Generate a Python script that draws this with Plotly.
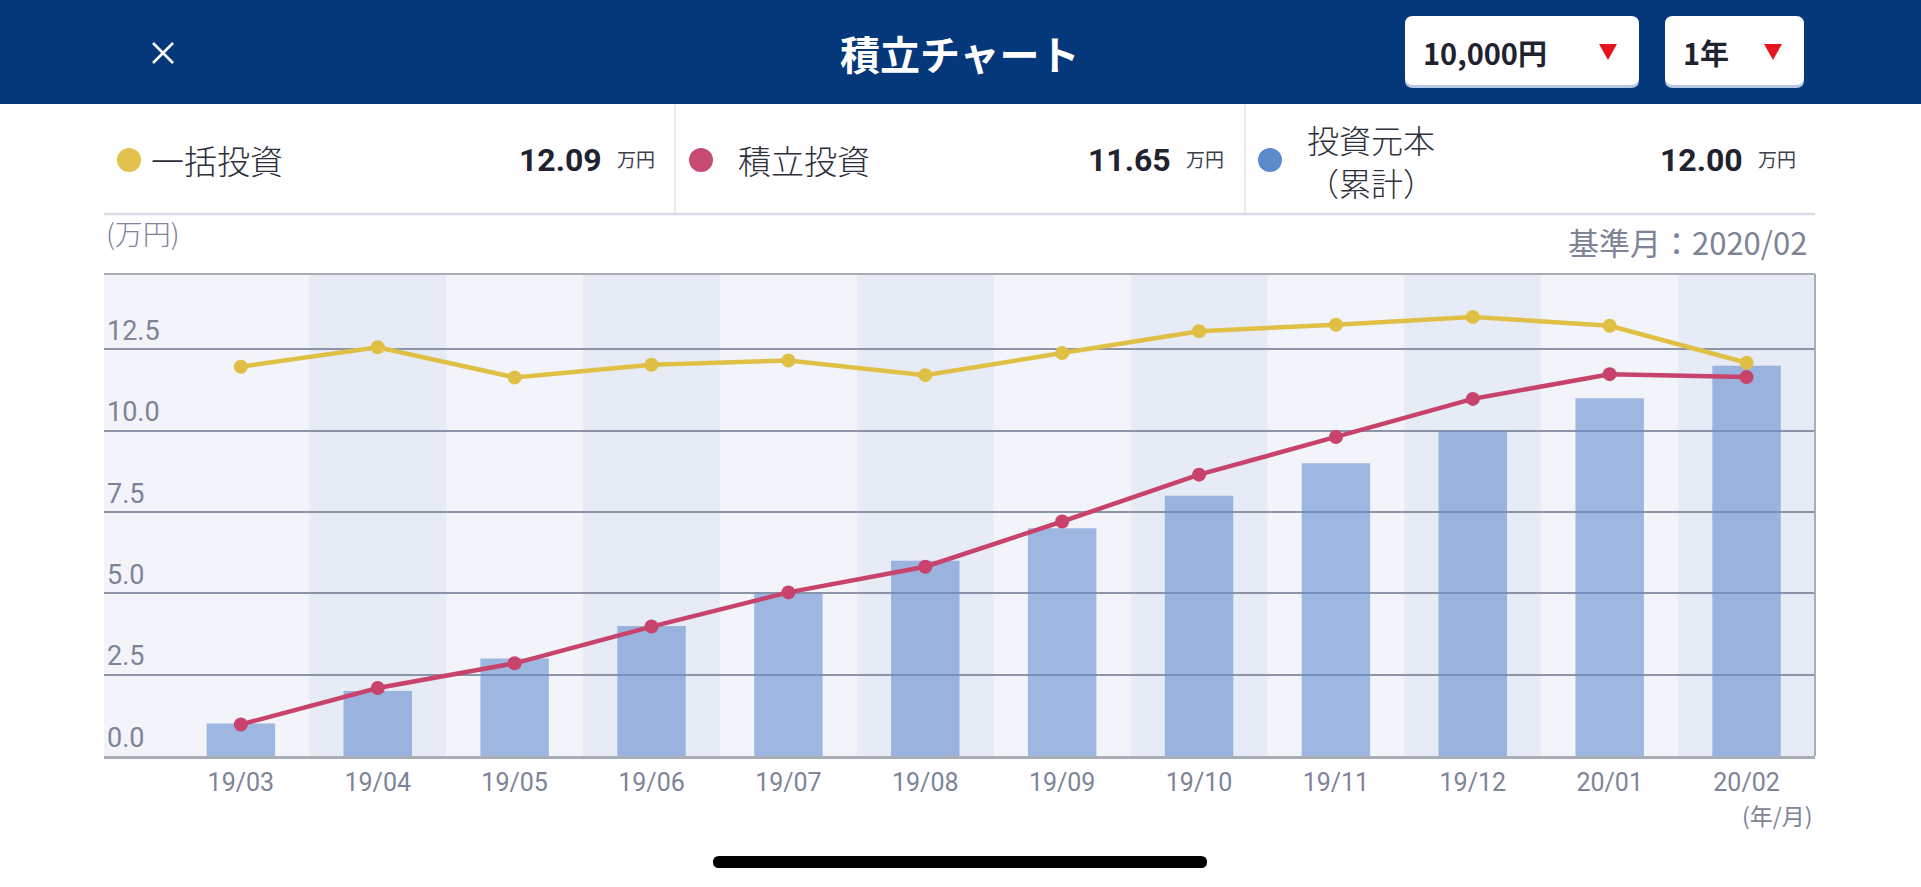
import plotly.graph_objects as go

# chart data (万円)
months = ["19/03", "19/04", "19/05", "19/06", "19/07", "19/08",
          "19/09", "19/10", "19/11", "19/12", "20/01", "20/02"]
lump_sum = [11.97, 12.57, 11.64, 12.03, 12.16, 11.71, 12.39, 13.06, 13.26, 13.50, 13.23, 12.09]
monthly = [0.97, 2.09, 2.85, 3.98, 5.03, 5.82, 7.21, 8.65, 9.81, 10.98, 11.74, 11.65]
principal = [1, 2, 3, 4, 5, 6, 7, 8, 9, 10, 11, 12]
y_ticks = [0, 2.5, 5, 7.5, 10, 12.5]

# legend row
legend_names = ["一括投資", "積立投資", "投資元本"]
legend_values = ["12.09", "11.65", "12.00"]
legend_colors = ["#e2c24a", "#c94a70", "#5b8bcc"]
base_month = "基準月：2020/02"

W, H = 1921, 887
L, R, T, B = 104, 1815, 274, 756

YELLOW = "#e0bf45"
RED = "#c8436c"
BAR = "rgba(102,142,206,0.6)"
GRID = "#8d94a8"
AXIS_TXT = "#7d8497"
NAVY = "#05377b"
JP = "Noto Sans CJK JP"
NUM = "Roboto"


def px(x):
    return (x - L) / (R - L)


def py(y):
    return 1 - (y - T) / (B - T)


def rounded(x0, y0, x1, y1, r):
    # rounded rectangle path in paper coords, pixel inputs
    pts = [
        f"M {px(x0 + r)},{py(y0)}",
        f"L {px(x1 - r)},{py(y0)}",
        f"Q {px(x1)},{py(y0)} {px(x1)},{py(y0 + r)}",
        f"L {px(x1)},{py(y1 - r)}",
        f"Q {px(x1)},{py(y1)} {px(x1 - r)},{py(y1)}",
        f"L {px(x0 + r)},{py(y1)}",
        f"Q {px(x0)},{py(y1)} {px(x0)},{py(y1 - r)}",
        f"L {px(x0)},{py(y0 + r)}",
        f"Q {px(x0)},{py(y0)} {px(x0 + r)},{py(y0)}",
        "Z",
    ]
    return " ".join(pts)


def paper_shape(**kw):
    return dict(xref="paper", yref="paper", **kw)


fig = go.Figure()

fig.add_trace(go.Bar(x=months, y=principal, width=0.5, marker=dict(color=BAR, line=dict(width=0)),
                     name="投資元本（累計）"))
fig.add_trace(go.Scatter(x=months, y=lump_sum, mode="lines+markers", name="一括投資",
                         line=dict(color=YELLOW, width=4.5), marker=dict(size=14, color=YELLOW)))
fig.add_trace(go.Scatter(x=months, y=monthly, mode="lines+markers", name="積立投資",
                         line=dict(color=RED, width=4.5), marker=dict(size=14, color=RED)))

shapes = []
# alternating column bands
for i in range(1, len(months), 2):
    shapes.append(dict(type="rect", xref="x", yref="paper", x0=i - 0.5, x1=i + 0.5, y0=0, y1=1,
                       fillcolor="#e6ebf5", line=dict(width=0), layer="below"))
# plot frame (top and right)
shapes.append(paper_shape(type="line", x0=0, x1=1, y0=1, y1=1, line=dict(color="#a9adb8", width=2)))
shapes.append(paper_shape(type="line", x0=1, x1=1, y0=0, y1=1, line=dict(color="#a9adb8", width=2)))

# header bar
shapes.append(paper_shape(type="rect", x0=px(0), x1=px(W), y0=py(0), y1=py(104),
                          fillcolor=NAVY, line=dict(width=0)))
# close mark
shapes.append(paper_shape(type="line", x0=px(153), x1=px(173), y0=py(43), y1=py(63),
                          line=dict(color="white", width=2.5)))
shapes.append(paper_shape(type="line", x0=px(153), x1=px(173), y0=py(63), y1=py(43),
                          line=dict(color="white", width=2.5)))
# dropdown boxes with red triangles
for x0, x1, tx in [(1405, 1639, 1608), (1665, 1804, 1773)]:
    shapes.append(paper_shape(type="path", path=rounded(x0, 18, x1, 88, 8),
                              fillcolor="#b9c8e4", line=dict(width=0)))
    shapes.append(paper_shape(type="path", path=rounded(x0, 16, x1, 85, 8),
                              fillcolor="white", line=dict(width=0)))
    tri = f"M {px(tx - 9)},{py(44)} L {px(tx + 9)},{py(44)} L {px(tx)},{py(60)} Z"
    shapes.append(paper_shape(type="path", path=tri, fillcolor="#e8141c", line=dict(width=0)))
# legend row separators
for xs in [675, 1245]:
    shapes.append(paper_shape(type="line", x0=px(xs), x1=px(xs), y0=py(104), y1=py(214),
                              line=dict(color="#e1e4ea", width=1.5)))
shapes.append(paper_shape(type="line", x0=px(104), x1=px(1815), y0=py(214), y1=py(214),
                          line=dict(color="#d9dce4", width=2.5)))
# legend dots
dot_x = [129, 701, 1270]
for cx, col in zip(dot_x, legend_colors):
    shapes.append(paper_shape(type="circle", x0=px(cx - 12), x1=px(cx + 12), y0=py(148), y1=py(172),
                              fillcolor=col, line=dict(width=0)))
# home indicator
shapes.append(paper_shape(type="path", path=rounded(713, 856, 1207, 868, 6),
                          fillcolor="black", line=dict(width=0)))

annotations = []


def note(x, y, text, size, color, xanchor="left", family=JP, weight="normal", **kw):
    annotations.append(dict(xref="paper", yref="paper", x=px(x), y=py(y), text=text, showarrow=False,
                            xanchor=xanchor, yanchor="middle", borderpad=0,
                            font=dict(size=size, color=color, family=family, weight=weight), **kw))


# header texts
note(960, 53, "<b>積立チャート</b>", 40, "white", xanchor="center")
note(1422, 52, "<b>10,000円</b>", 29, "#1f2330")
note(1682, 52, "<b>1年</b>", 29, "#1f2330")

# legend row
label_x = [150, 737, 1306]
value_right = [603, 1172, 1744]
for i in range(3):
    if i == 2:
        note(label_x[i], 139, legend_names[i], 32, "#2c303b", weight=300)
        note(label_x[i], 182, "（累計）", 32, "#2c303b", weight=300)
    else:
        note(label_x[i], 160, legend_names[i], 33, "#2c303b", weight=300)
    note(value_right[i], 160, f"<b>{legend_values[i]}</b>", 32, "#1f2330", xanchor="right", family="Roboto")
    note(value_right[i] + 13, 158, "万円", 19, "#3c404c")

# chart captions
note(105, 233, "(万円)", 28, AXIS_TXT, weight=300)
note(1808, 241, base_month, 31, AXIS_TXT, xanchor="right")
note(1814, 815, "(年/月)", 23, AXIS_TXT, xanchor="right")

fig.update_layout(
    width=W, height=H,
    margin=dict(l=L, r=W - R, t=T, b=H - B),
    paper_bgcolor="white",
    plot_bgcolor="#f2f4f9",
    showlegend=False,
    shapes=shapes,
    annotations=annotations,
)
fig.update_xaxes(
    type="category", range=[-1, len(months) - 0.5],
    showgrid=False, showline=True, linecolor="#a9adb8", linewidth=3,
    ticks="", tickfont=dict(size=25, color=AXIS_TXT, family=NUM), ticklabelstandoff=2,
)
fig.update_yaxes(
    range=[0, 14.82], tickvals=y_ticks, tickformat=".1f",
    ticklabelposition="inside top", tickfont=dict(size=27, color=AXIS_TXT, family=NUM),
    showgrid=True, gridcolor=GRID, gridwidth=1.5, zeroline=False, showline=False, ticks="",
)

fig.write_html("out.html", config={"displayModeBar": False})

# drop the default page margin so the figure fills the window
with open("out.html", encoding="utf-8") as f:
    page = f.read()
page = page.replace("<body>", '<body style="margin:0;overflow:hidden">', 1)
with open("out.html", "w", encoding="utf-8") as f:
    f.write(page)
